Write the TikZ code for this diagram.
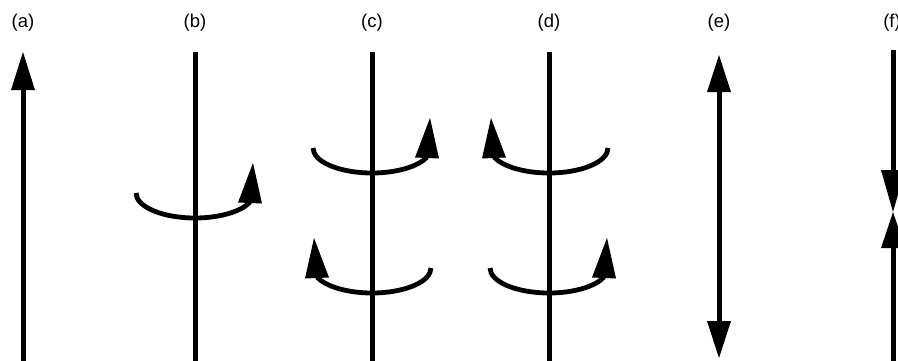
\documentclass[tikz,border=0pt]{standalone}
\usepackage{fontspec}
\setmainfont{Liberation Sans}
\begin{document}
\begin{tikzpicture}[x=1pt,y=-1pt,
  axisline/.style={line width=5pt},
  arcline/.style={line width=4.8pt},
  lbl/.style={font=\fontsize{18.5}{22}\selectfont, inner sep=0pt},
  rotarc/.pic={
    \draw[arcline] (-59,0) arc[start angle=180,end angle=21,x radius=59,y radius=25];
    \fill (58,-30) -- (43,9.5) -- (67,10.5) -- cycle;
  }]
\useasboundingbox (0,0) rectangle (898,360);
\clip (0,0) rectangle (898,360);
\fill[white] (0,0) rectangle (898,360);

% labels
\node[lbl] (la) at (23,23) {(a)};
\node[lbl] (lb) at (195,23) {(b)};
\node[lbl] (lc) at (372,23) {(c)};
\node[lbl] (ld) at (549,23) {(d)};
\node[lbl] (le) at (719,23) {(e)};
\node[lbl] (lf) at (892,23) {(f)};

% (a)
\draw[axisline] (23,88) -- (23,365);
\fill (23,52) -- (11,90) -- (35,90) -- cycle;

% (b)
\draw[axisline] (195,52) -- (195,365);
\pic at (195,193) {rotarc};

% (c)
\draw[axisline] (372,52) -- (372,365);
\pic at (372,148) {rotarc};
\pic[xscale=-1] at (372,268) {rotarc};

% (d)
\draw[axisline] (549,52) -- (549,365);
\pic[xscale=-1] at (549,148) {rotarc};
\pic at (549,268) {rotarc};

% (e)
\draw[axisline] (719,88) -- (719,325);
\fill (719,55) -- (707,92) -- (731,92) -- cycle;
\fill (719,358) -- (707,321) -- (731,321) -- cycle;

% (f)
\draw[axisline] (893,50) -- (893,172);
\fill (881,170) -- (905,170) -- (893,212) -- cycle;
\fill (893,212) -- (881,248) -- (905,248) -- cycle;
\draw[axisline] (893,246) -- (893,365);
\end{tikzpicture}
\end{document}
